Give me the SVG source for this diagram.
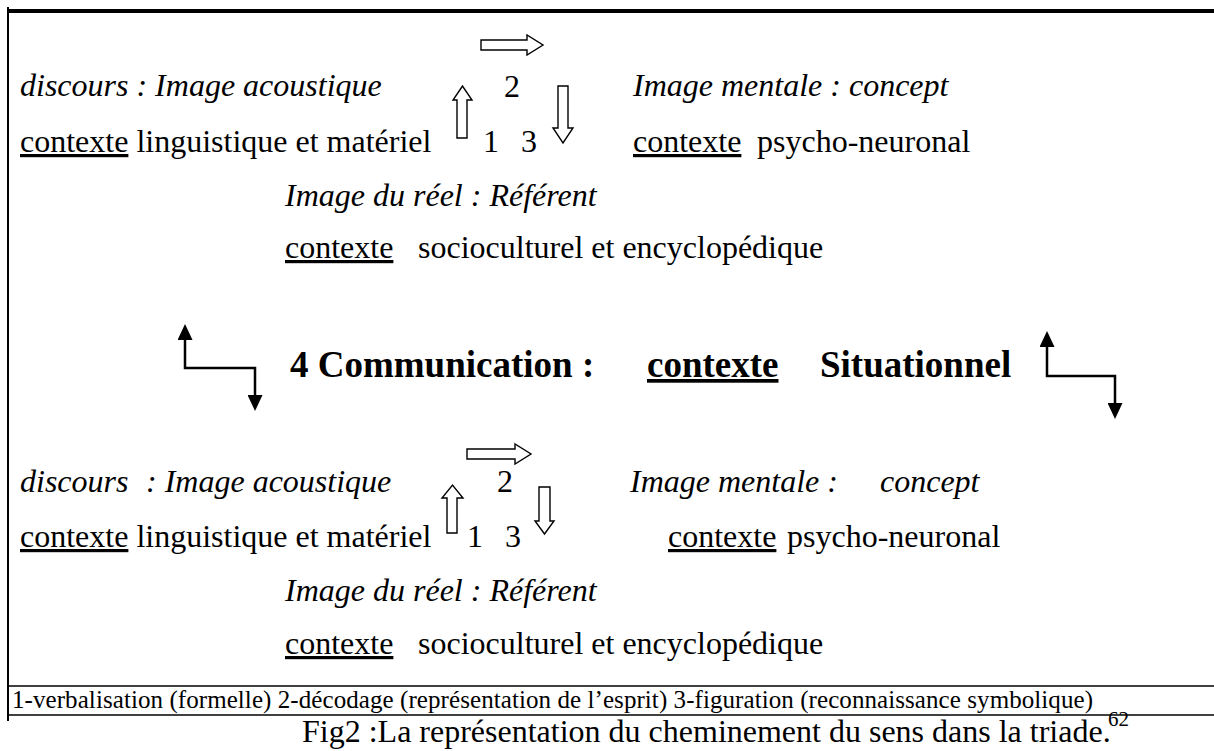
<svg xmlns="http://www.w3.org/2000/svg" width="1214" height="751" viewBox="0 0 1214 751">
  <style>
    text { font-family: "Liberation Serif", "Times New Roman", serif; fill: #000; }
    .t { font-size: 32px; }
    .i { font-size: 32px; font-style: italic; }
    .b { font-size: 37px; font-weight: bold; }
    .u { text-decoration: underline; }
    .leg { font-size: 25px; }
    .frame { stroke: #000; fill: none; }
    .hollow { fill: #fff; stroke: #000; stroke-width: 1.4; stroke-linejoin: miter; }
    .bent { fill: none; stroke: #000; stroke-width: 2.5; marker-start: url(#head); marker-end: url(#head); }
  </style>
  <defs>
    <marker id="head" markerUnits="userSpaceOnUse" markerWidth="16" markerHeight="15" refX="0" refY="7.5" orient="auto-start-reverse">
      <path d="M0,0 L16,7.5 L0,15 Z" fill="#000"/>
    </marker>
  </defs>

  <rect width="1214" height="751" fill="#fff"/>

  <!-- frame -->
  <g id="frame">
    <line class="frame" x1="8" y1="11" x2="1214" y2="11" stroke-width="4"/>
    <line class="frame" x1="8" y1="7" x2="8" y2="721" stroke-width="2"/>
    <line class="frame" x1="8" y1="686" x2="1214" y2="686" stroke-width="1.6"/>
    <line class="frame" x1="8" y1="715" x2="1214" y2="715" stroke-width="1.6"/>
  </g>

  <!-- upper triad -->
  <g id="triad-top">
    <text class="i" x="20" y="96">discours : Image acoustique</text>
    <text class="t" x="504" y="97">2</text>
    <text class="i" x="633" y="96">Image mentale : concept</text>
    <text class="t" x="20" y="152"><tspan class="u">contexte</tspan> linguistique et matériel</text>
    <text class="t" x="483" y="152">1</text>
    <text class="t" x="521" y="152">3</text>
    <text class="t" x="633" y="152"><tspan class="u">contexte</tspan></text>
    <text class="t" x="757" y="152">psycho-neuronal</text>
    <text class="i" x="285" y="206">Image du réel : Référent</text>
    <text class="t" x="285" y="258"><tspan class="u">contexte</tspan></text>
    <text class="t" x="418" y="258">socioculturel et encyclopédique</text>
  </g>

  <!-- communication line -->
  <g id="communication">
    <text class="b" x="290" y="377">4 Communication :</text>
    <text class="b u" x="647" y="377">contexte</text>
    <text class="b" x="820" y="377">Situationnel</text>
  </g>

  <!-- lower triad -->
  <g id="triad-bottom">
    <text class="i" x="20" y="492">discours</text>
    <text class="i" x="146" y="492">: Image acoustique</text>
    <text class="t" x="497" y="492">2</text>
    <text class="i" x="630" y="492">Image mentale :</text>
    <text class="i" x="880" y="492">concept</text>
    <text class="t" x="20" y="547"><tspan class="u">contexte</tspan> linguistique et matériel</text>
    <text class="t" x="467" y="547">1</text>
    <text class="t" x="505" y="547">3</text>
    <text class="t" x="668" y="547"><tspan class="u">contexte</tspan></text>
    <text class="t" x="787" y="547">psycho-neuronal</text>
    <text class="i" x="285" y="601">Image du réel : Référent</text>
    <text class="t" x="285" y="654"><tspan class="u">contexte</tspan></text>
    <text class="t" x="418" y="654">socioculturel et encyclopédique</text>
  </g>

  <!-- legend and caption -->
  <g id="legend">
    <text class="leg" x="12" y="708" textLength="1081" lengthAdjust="spacing">1-verbalisation (formelle)  2-décodage (représentation de l’esprit)  3-figuration (reconnaissance symbolique)</text>
  </g>
  <g id="caption">
    <text class="t" x="302" y="742">Fig2 :La représentation du cheminement du sens dans la triade.</text>
    <text x="1108" y="726" font-size="21">62</text>
  </g>

  <!-- connectors -->
  <g id="connectors">
    <!-- upper triad: 1 up, 2 across, 3 down -->
    <path class="hollow" d="M457,138 V100 H453 L462.5,86 L472,100 H467 V138 Z"/>
    <path class="hollow" d="M481,40 H527 V35 L543,45 L527,55 V50 H481 Z"/>
    <path class="hollow" d="M558,86 H568 V128 H573 L563,143 L553,128 H558 Z"/>
    <!-- lower triad -->
    <path class="hollow" d="M447,533 V498 H442 L452.5,485 L463,498 H457 V533 Z"/>
    <path class="hollow" d="M467,449 H515 V444 L531,454 L515,464 V459 H467 Z"/>
    <path class="hollow" d="M539,487 H550 V521 H554 L544.5,534 L535,521 H539 Z"/>
    <!-- links between the two triads -->
    <path class="bent" d="M185,340 V368 H255 V395"/>
    <path class="bent" d="M1047,347 V376 H1115 V403"/>
  </g>
</svg>
